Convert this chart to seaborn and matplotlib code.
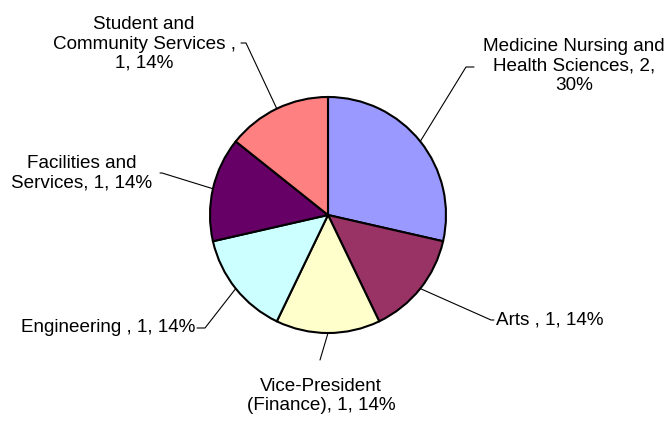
import numpy as np
import seaborn as sns
import matplotlib.pyplot as plt

# data
units = ["Medicine Nursing and Health Sciences", "Arts", "Vice-President (Finance)",
         "Engineering", "Facilities and Services", "Student and Community Services"]
counts = [2, 1, 1, 1, 1, 1]
pct_labels = ["30%", "14%", "14%", "14%", "14%", "14%"]
label_text = ["Medicine Nursing and\nHealth Sciences, 2,\n30%",
              "Arts , 1, 14%",
              "Vice-President\n(Finance), 1, 14%",
              "Engineering , 1, 14%",
              "Facilities and\nServices, 1, 14%",
              "Student and\nCommunity Services ,\n1, 14%"]
colors = ["#9999FF", "#993366", "#FFFFCC", "#CCFFFF", "#660066", "#FF8080"]

sns.set_theme(style="white")
plt.rcParams['font.family'] = ['Liberation Sans', 'DejaVu Sans']

W, H = 666, 421
CX, CY, R = 328, 215, 118  # pie centre / radius in pixels

def px(x, y):
    return ((x - CX) / R, (CY - y) / R)

fig = plt.figure(figsize=(W / 100, H / 100), dpi=100)
ax = fig.add_axes([0, 0, 1, 1])
wedges, _ = ax.pie(counts, colors=colors, startangle=90, counterclock=False,
                   radius=1, center=(0, 0),
                   wedgeprops=dict(edgecolor="black", linewidth=1.5))
ax.set_xlim(-CX / R, (W - CX) / R)
ax.set_ylim((CY - H) / R, CY / R)
ax.set_aspect("equal")
ax.axis("off")

# label layout: elbow point, end point, text anchor, alignment
layout = [
    ((466, 67), (474, 67), (574, 66), "center"),
    ((491, 320), (494, 320), (496, 320), "left"),
    ((320, 360), (320, 360), (321, 396), "center"),
    ((205, 328), (197, 328), (195, 328), "right"),
    ((162, 173), (160, 173), (82, 173), "center"),
    ((246, 43), (241, 43), (144, 44), "center"),
]

for w, txt, (elbow, end, tpos, ha) in zip(wedges, label_text, layout):
    ang = np.deg2rad((w.theta1 + w.theta2) / 2)
    x0, y0 = np.cos(ang), np.sin(ang)
    ex, ey = px(*elbow)
    nx, ny = px(*end)
    ax.plot([x0, ex, nx], [y0, ey, ny], color="black", linewidth=0.8)
    tx, ty = px(*tpos)
    ax.text(tx, ty, txt, ha=ha, va="center", fontsize=13.6, color="black",
            linespacing=1.18, multialignment="center")

fig.savefig("out.png", dpi=100, facecolor="white")
